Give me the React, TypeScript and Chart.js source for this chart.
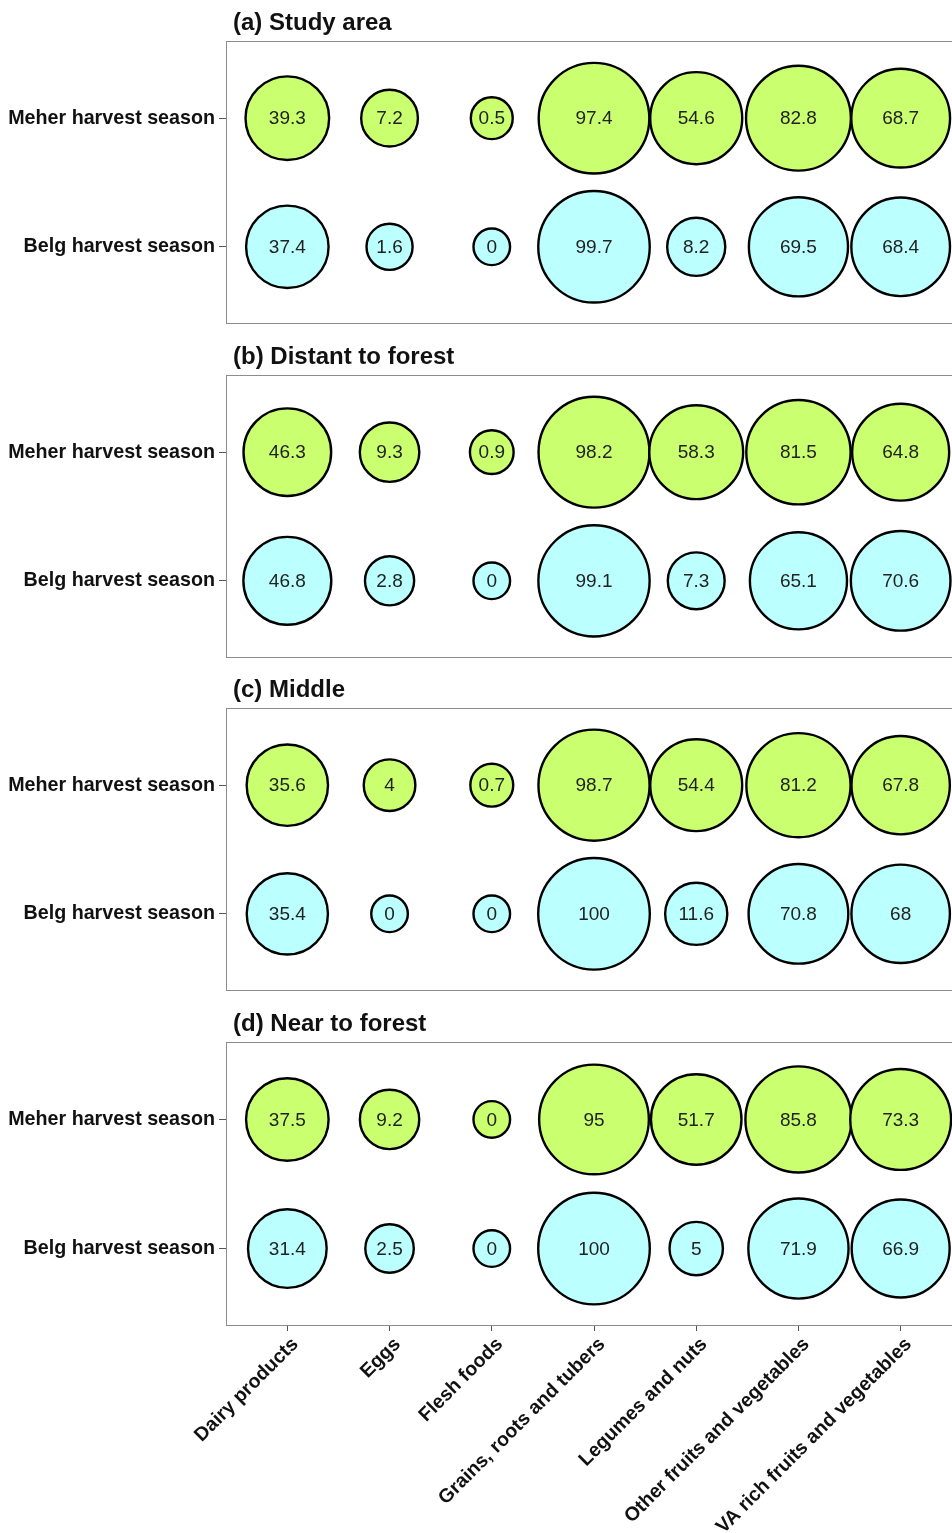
import React, { useEffect, useRef } from "react";
import { Chart, registerables } from "chart.js";

Chart.register(...registerables);

const categories = [
  "Dairy products",
  "Eggs",
  "Flesh foods",
  "Grains, roots and tubers",
  "Legumes and nuts",
  "Other fruits and vegetables",
  "VA rich fruits and vegetables",
];

const seasonLabels = ["Belg harvest season", "Meher harvest season"]; // y = 1, y = 2

const panelTitles = [
  "(a) Study area",
  "(b) Distant to forest",
  "(c) Middle",
  "(d) Near to forest",
];

const meherStudyArea = [39.3, 7.2, 0.5, 97.4, 54.6, 82.8, 68.7];
const belgStudyArea = [37.4, 1.6, 0, 99.7, 8.2, 69.5, 68.4];

const meherDistant = [46.3, 9.3, 0.9, 98.2, 58.3, 81.5, 64.8];
const belgDistant = [46.8, 2.8, 0, 99.1, 7.3, 65.1, 70.6];

const meherMiddle = [35.6, 4, 0.7, 98.7, 54.4, 81.2, 67.8];
const belgMiddle = [35.4, 0, 0, 100, 11.6, 70.8, 68];

const meherNear = [37.5, 9.2, 0, 95, 51.7, 85.8, 73.3];
const belgNear = [31.4, 2.5, 0, 100, 5, 71.9, 66.9];

const FONT = "'Liberation Sans', Arial, Helvetica, sans-serif";
const GREEN = "#CAFF70";
const CYAN = "#BBFFFF";

function bubbleRadius(v: number) {
  return 18.3 + 3.75 * Math.sqrt(v);
}

const panelPlugin = {
  id: "panelDecor",
  beforeDatasetsDraw(chart: any, _args: any, opts: any) {
    const { ctx, chartArea } = chart;
    ctx.save();
    ctx.strokeStyle = "#8c8c8c";
    ctx.lineWidth = 1;
    ctx.strokeRect(
      chartArea.left + 0.5,
      chartArea.top + 0.5,
      chartArea.right - chartArea.left - 1,
      chartArea.bottom - chartArea.top - 1
    );
    ctx.font = `bold 24px ${FONT}`;
    ctx.fillStyle = "#111111";
    ctx.textAlign = "left";
    ctx.textBaseline = "alphabetic";
    ctx.fillText(opts.text || "", chartArea.left + 7, chartArea.top - 11);
    ctx.restore();
  },
  afterDatasetsDraw(chart: any) {
    const { ctx } = chart;
    ctx.save();
    ctx.font = `19px ${FONT}`;
    ctx.fillStyle = "#222222";
    ctx.textAlign = "center";
    ctx.textBaseline = "middle";
    chart.data.datasets.forEach((ds: any, di: number) => {
      const meta = chart.getDatasetMeta(di);
      meta.data.forEach((el: any, i: number) => {
        ctx.fillText(String(ds.data[i].v), el.x, el.y + 1);
      });
    });
    ctx.restore();
  },
};

type PanelProps = {
  title: string;
  meher: number[];
  belg: number[];
  showX: boolean;
  top: number;
  height: number;
};

function Panel({ title, meher, belg, showX, top, height }: PanelProps) {
  const ref = useRef<HTMLCanvasElement | null>(null);
  useEffect(() => {
    if (!ref.current) return;
    const mk = (vals: number[], y: number) =>
      vals.map((v, i) => ({ x: i + 1, y, r: bubbleRadius(v), v }));
    const chart = new Chart(ref.current, {
      type: "bubble",
      data: {
        datasets: [
          {
            label: seasonLabels[1],
            data: mk(meher, 2),
            backgroundColor: GREEN,
            borderColor: "#000000",
            borderWidth: 2.4,
          },
          {
            label: seasonLabels[0],
            data: mk(belg, 1),
            backgroundColor: CYAN,
            borderColor: "#000000",
            borderWidth: 2.4,
          },
        ],
      } as any,
      options: {
        animation: false,
        responsive: false,
        events: [],
        clip: false as any,
        layout: {
          autoPadding: false,
          padding: { top: 41, right: 3, bottom: showX ? 0 : 10, left: 0 },
        },
        plugins: {
          legend: { display: false },
          tooltip: { enabled: false },
          title: { display: false },
          panelDecor: { text: title },
        } as any,
        scales: {
          x: {
            type: "linear",
            min: 0.4,
            max: 7.6,
            display: showX,
            afterBuildTicks: (s: any) => {
              s.ticks = categories.map((_, i) => ({ value: i + 1 }));
            },
            afterFit: (s: any) => {
              if (showX) s.height = 207;
              s.paddingLeft = 0;
              s.paddingRight = 0;
            },
            border: { display: false },
            grid: {
              drawOnChartArea: false,
              drawTicks: true,
              tickLength: 5,
              tickColor: "#555555",
              color: "#555555",
            },
            ticks: {
              autoSkip: false,
              minRotation: 45,
              maxRotation: 45,
              padding: 2,
              labelOffset: 8,
              color: "#111111",
              font: { family: FONT, size: 19.5, weight: "bold" },
              callback: (_v: any, i: number) => categories[i],
            },
          },
          y: {
            type: "linear",
            min: 0.4,
            max: 2.6,
            afterBuildTicks: (s: any) => {
              s.ticks = seasonLabels.map((_, i) => ({ value: i + 1 }));
            },
            afterFit: (s: any) => {
              s.width = 226;
              s.paddingTop = 0;
              s.paddingBottom = 0;
            },
            border: { display: false },
            grid: {
              drawOnChartArea: false,
              drawTicks: true,
              tickLength: 7,
              tickColor: "#555555",
              color: "#555555",
            },
            ticks: {
              padding: 4,
              color: "#111111",
              font: { family: FONT, size: 19.7, weight: "bold" },
              callback: (_v: any, i: number) => seasonLabels[i],
            },
          },
        } as any,
      },
      plugins: [panelPlugin],
    });
    return () => chart.destroy();
  }, [title, meher, belg, showX]);

  return (
    <div style={{ position: "absolute", left: 0, top, width: 965, height }}>
      <canvas
        ref={ref}
        width={965}
        height={height}
        style={{ display: "block", width: 965, height }}
      />
    </div>
  );
}

export default function App() {
  return (
    <div
      style={{
        position: "absolute",
        left: 0,
        top: 0,
        width: 952,
        height: 1533,
        overflow: "hidden",
        background: "#ffffff",
      }}
    >
      <Panel title={panelTitles[0]} meher={meherStudyArea} belg={belgStudyArea} showX={false} top={0} height={334} />
      <Panel title={panelTitles[1]} meher={meherDistant} belg={belgDistant} showX={false} top={334} height={334} />
      <Panel title={panelTitles[2]} meher={meherMiddle} belg={belgMiddle} showX={false} top={667} height={334} />
      <Panel title={panelTitles[3]} meher={meherNear} belg={belgNear} showX={true} top={1001} height={532} />
    </div>
  );
}
